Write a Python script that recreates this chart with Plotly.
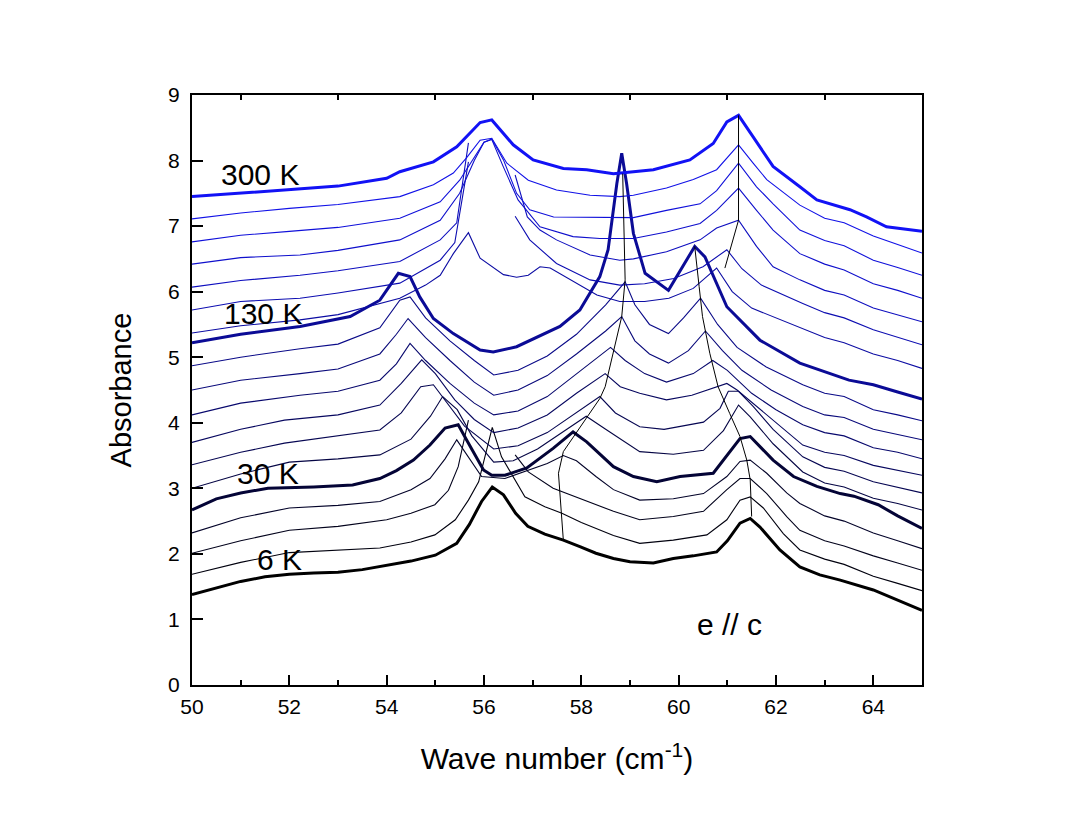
import plotly.graph_objects as go

# spectra, 6 K (bottom) ... 300 K (top)
x_6k = [50, 50.5, 51, 51.5, 52, 52.5, 53, 53.5, 54, 54.5, 55, 55.44, 55.7, 55.95, 56.17, 56.4, 56.65, 56.9, 57.25, 57.63,
        57.97, 58.3, 58.66, 59.0, 59.48, 59.89, 60.3, 60.78, 61.0, 61.26, 61.47, 61.67, 62.08, 62.49, 62.9, 63.32, 64.0, 64.5, 65]
y_6k = [1.38, 1.48, 1.58, 1.65, 1.69, 1.71, 1.72, 1.76, 1.82, 1.89, 1.98, 2.16, 2.45, 2.80, 3.02, 2.90, 2.62, 2.42, 2.30, 2.21,
        2.11, 2.01, 1.93, 1.88, 1.86, 1.93, 1.97, 2.03, 2.20, 2.47, 2.54, 2.41, 2.06, 1.80, 1.68, 1.60, 1.45, 1.30, 1.14]

x_t1 = [50, 51, 52, 53, 53.86, 54.5, 54.99, 55.41, 55.68, 55.89, 56.17, 56.36, 56.64, 56.84, 57.25, 57.6, 58.0, 58.66,
        59.2, 59.89, 60.58, 60.99, 61.26, 61.47, 61.74, 62.15, 62.49, 63.0, 63.4, 64.0, 64.5, 65]
y_t1 = [1.69, 1.87, 2.02, 2.06, 2.09, 2.18, 2.29, 2.52, 2.82, 3.10, 3.93, 3.48, 3.13, 2.87, 2.72, 2.62, 2.48, 2.28,
        2.16, 2.21, 2.29, 2.52, 2.82, 2.87, 2.70, 2.31, 2.06, 1.92, 1.84, 1.66, 1.55, 1.44]

x_t2 = [50, 51, 52, 53, 54, 54.5, 54.99, 55.27, 55.47, 55.68, None, 56.64, 56.91, 57.42, 57.97, 58.66, 59.2, 59.89,
        60.51, 60.99, 61.26, 61.47, 61.81, 62.22, 62.49, 63.0, 63.4, 64.0, 64.5, 65]
y_t2 = [2.01, 2.20, 2.36, 2.42, 2.52, 2.62, 2.75, 2.97, 3.33, 4.04, None, 3.51, 3.25, 3.00, 2.85, 2.65, 2.52, 2.57,
        2.65, 2.98, 3.15, 3.15, 2.92, 2.57, 2.36, 2.20, 2.12, 1.97, 1.86, 1.75]

x_t3 = [50, 51, 52, 53, 53.86, 54.5, 54.89, 55.2, 55.44, 55.7, 55.95, 56.43, 56.9, 57.3, 57.63, 57.9, 58.3, 58.66,
        59.2, 59.89, 60.51, 60.99, 61.26, 61.47, 61.81, 62.22, 62.49, 63.0, 63.4, 64.0, 64.5, 65]
y_t3 = [2.32, 2.55, 2.70, 2.74, 2.80, 2.98, 3.15, 3.45, 3.74, 3.45, 3.18, 3.15, 3.28, 3.38, 3.50, 3.42, 3.18, 2.98,
        2.82, 2.84, 2.92, 3.18, 3.41, 3.43, 3.23, 2.93, 2.77, 2.58, 2.50, 2.32, 2.20, 2.08]

x_30k = [50, 50.5, 51, 51.56, 52.5, 53.3, 53.86, 54.2, 54.55, 54.89, 55.2, 55.47, 55.64, 55.99, 56.16, 56.43, 56.88,
         57.42, 57.83, 58.11, 58.66, 59.07, 59.55, 60.03, 60.71, 61.26, 61.47, 61.94, 62.36, 62.84, 63.32, 63.6, 64.1, 64.5, 65]
y_30k = [2.67, 2.84, 2.93, 3.00, 3.02, 3.05, 3.15, 3.27, 3.43, 3.66, 3.92, 3.97, 3.74, 3.28, 3.20, 3.20, 3.31,
         3.61, 3.86, 3.71, 3.33, 3.18, 3.10, 3.18, 3.23, 3.76, 3.79, 3.43, 3.18, 3.03, 2.92, 2.88, 2.75, 2.58, 2.39]

x_t5 = [50, 51, 52, 53, 53.86, 54.5, 54.9, 55.15, 55.45, 55.75, 56.2, 56.6, 57.1, 57.6, 58.1, 58.5, 59.2, 59.89,
        60.51, 60.92, 61.23, 61.47, 61.94, 62.55, 63.0, 63.4, 64.0, 64.5, 65]
y_t5 = [3.00, 3.22, 3.40, 3.45, 3.51, 3.75, 4.10, 4.40, 4.20, 3.80, 3.40, 3.42, 3.60, 3.85, 4.10, 3.90, 3.56, 3.52,
        3.58, 3.88, 4.27, 4.09, 3.68, 3.25, 3.08, 3.02, 2.85, 2.77, 2.67]

x_t6 = [50, 51, 51.9, 53, 53.86, 54.3, 54.7, 54.96, 55.2, 55.6, 56.2, 56.7, 57.3, 57.9, 58.38, 58.7, 59.2, 59.7,
        60.51, 60.85, 61.02, 61.23, 61.53, 61.94, 62.55, 63.0, 63.4, 64.0, 64.5, 65]
y_t6 = [3.36, 3.55, 3.69, 3.80, 3.89, 4.15, 4.55, 4.58, 4.35, 3.95, 3.60, 3.65, 3.85, 4.15, 4.40, 4.15, 3.94, 3.90,
        4.01, 4.22, 4.48, 4.48, 4.25, 3.90, 3.48, 3.32, 3.26, 3.10, 3.02, 2.93]

x_t7 = [50, 51, 51.9, 53, 53.86, 54.3, 54.72, 55.0, 55.4, 55.8, 56.2, 56.7, 57.3, 57.9, 58.49, 58.8, 59.2, 59.75,
        60.27, 60.6, 60.99, 61.2, 61.6, 62.0, 62.55, 63.0, 63.4, 64.0, 64.5, 65]
y_t7 = [3.70, 3.90, 4.04, 4.12, 4.27, 4.60, 4.96, 4.75, 4.35, 4.05, 3.85, 3.92, 4.12, 4.45, 4.75, 4.55, 4.45, 4.35,
        4.42, 4.50, 4.60, 4.50, 4.25, 4.00, 3.66, 3.55, 3.50, 3.35, 3.28, 3.20]

x_t8 = [50, 51, 52.22, 53, 53.86, 54.2, 54.48, 54.8, 55.3, 55.8, 56.2, 56.7, 57.3, 57.9, 58.6, 58.9, 59.3, 59.75,
        60.3, 60.7, 61.0, 61.5, 62.0, 62.55, 63.0, 63.4, 64.0, 64.5, 65]
y_t8 = [4.12, 4.30, 4.42, 4.48, 4.65, 4.90, 5.21, 4.95, 4.60, 4.30, 4.12, 4.18, 4.40, 4.75, 5.15, 4.95, 4.75, 4.62,
        4.75, 4.95, 4.80, 4.45, 4.20, 3.97, 3.85, 3.80, 3.62, 3.55, 3.45]

x_t9 = [50, 51, 52.22, 53, 53.86, 54.2, 54.44, 54.8, 55.3, 55.8, 56.2, 56.7, 57.3, 57.9, 58.5, 58.83, 59.1, 59.4,
        59.79, 60.2, 60.55, 60.9, 61.3, 61.9, 62.55, 63.0, 63.4, 64.0, 64.5, 65]
y_t9 = [4.50, 4.65, 4.75, 4.82, 5.05, 5.35, 5.59, 5.30, 4.95, 4.62, 4.42, 4.50, 4.72, 5.05, 5.40, 5.62, 5.25, 5.05,
        4.91, 5.10, 5.40, 5.10, 4.80, 4.50, 4.25, 4.12, 4.08, 3.90, 3.82, 3.74]

x_t10 = [50, 51, 52.22, 53, 53.86, 54.27, 54.48, 54.8, 55.3, 55.8, 56.2, 56.7, 57.3, 57.9, 58.5, 58.9, 59.1, 59.4,
         59.79, 60.1, 60.45, 60.8, 61.2, 61.8, 62.55, 63.0, 63.4, 64.0, 64.5, 65]
y_t10 = [4.87, 5.00, 5.13, 5.20, 5.45, 5.87, 5.92, 5.60, 5.25, 4.95, 4.73, 4.80, 5.02, 5.35, 5.80, 6.15, 5.80, 5.50,
         5.36, 5.60, 5.90, 5.50, 5.15, 4.85, 4.58, 4.45, 4.40, 4.20, 4.12, 4.03]

x_130k = [50, 51, 52.22, 53.25, 53.86, 54.24, 54.48, 54.68, 54.96, 55.37, 55.92, 56.19, 56.67, 57.56, 57.97, 58.38,
          58.55, 58.73, 58.83, 58.93, 59.07, 59.31, 59.79, 60.33, 60.54, 60.99, 61.67, 62.49, 63.5, 64.0, 64.5, 65]
y_130k = [5.22, 5.35, 5.47, 5.62, 5.87, 6.28, 6.23, 5.92, 5.59, 5.36, 5.11, 5.08, 5.16, 5.47, 5.72, 6.23,
          6.64, 7.65, 8.11, 7.65, 6.89, 6.28, 6.02, 6.69, 6.53, 5.77, 5.26, 4.91, 4.65, 4.58, 4.47, 4.36]

x_t12 = [50, 51, 52.22, 53, 54.27, 54.8, 55.10, 55.37, 55.68, 55.92, 56.40, 56.67, 56.91, 57.15, 57.36, 57.84, 58.32,
         58.79, 59.3, 59.8, 60.3, 60.78, 61.1, 61.5, 62.0, 62.55, 63.0, 63.4, 64.0, 64.5, 65]
y_t12 = [5.37, 5.48, 5.57, 5.65, 5.90, 6.10, 6.25, 6.58, 6.90, 6.51, 6.26, 6.22, 6.25, 6.38, 6.36, 6.16, 5.95,
         5.85, 5.85, 5.90, 6.05, 6.36, 6.00, 5.75, 5.60, 5.44, 5.30, 5.22, 5.05, 4.95, 4.83]

x_t13 = [50, 51, 52.22, 53, 54.27, 55.10, 55.4, 55.68, None, 56.64, 56.94, 57.49, 58.18, 58.79, 59.3, 59.9, 60.5,
         60.99, 61.3, 61.7, 62.0, 62.55, 63.0, 63.4, 64.0, 64.5, 65]
y_t13 = [5.72, 5.85, 5.90, 5.98, 6.13, 6.48, 6.75, 7.98, None, 7.15, 6.79, 6.43, 6.18, 6.10, 6.12, 6.20, 6.38,
         6.64, 6.35, 6.10, 6.00, 5.82, 5.68, 5.60, 5.42, 5.30, 5.19]

x_t14 = [50, 51, 52.22, 53, 54.27, 55.10, 55.44, 55.68, None, 56.64, 56.89, 57.15, 57.49, 58.18, 58.79, 59.07, 59.75,
         60.44, 60.78, 61.23, 61.6, 61.94, 62.49, 63.0, 63.4, 64.0, 64.5, 65]
y_t14 = [6.07, 6.17, 6.25, 6.32, 6.46, 6.79, 7.05, 8.27, None, 7.78, 7.14, 6.94, 6.79, 6.56, 6.48, 6.50, 6.61,
         6.79, 6.97, 7.09, 6.69, 6.38, 6.18, 6.02, 5.95, 5.75, 5.65, 5.54]

x_t15 = [50, 51, 52.22, 53, 54.27, 55.10, 55.5, 55.8, 56.0, 56.16, 56.4, 56.7, 57.15, 57.83, 58.38, 59.07, 59.75,
         60.44, 60.78, 61.23, 61.6, 61.94, 62.49, 63.0, 63.4, 64.0, 64.5, 65]
y_t15 = [6.42, 6.52, 6.56, 6.63, 6.79, 7.09, 7.50, 8.00, 8.28, 8.32, 7.90, 7.40, 6.99, 6.84, 6.81, 6.81, 6.91,
         7.04, 7.24, 7.58, 7.24, 6.94, 6.58, 6.42, 6.33, 6.12, 6.02, 5.90]

x_t16 = [50, 51, 52, 53, 54.27, 55.10, 55.5, 55.8, 56.0, 56.16, 56.40, 56.67, 56.94, 57.43, 58.38, 59.07, 59.75,
         60.44, 60.78, 61.23, 61.6, 61.94, 62.49, 63.0, 63.4, 64.0, 64.5, 65]
y_t16 = [6.76, 6.86, 6.92, 6.98, 7.12, 7.37, 7.70, 8.05, 8.28, 8.33, 8.01, 7.50, 7.25, 7.14, 7.13, 7.13, 7.24,
         7.34, 7.54, 7.96, 7.60, 7.34, 6.94, 6.78, 6.70, 6.48, 6.37, 6.25]

x_t17 = [50, 51, 52, 53, 54.27, 54.96, 55.37, 55.64, 55.92, 56.16, 56.47, 56.91, 57.49, 58.18, 58.79, 59.07, 59.75,
         60.30, 60.78, 61.23, 61.53, 61.81, 62.49, 63.0, 63.4, 64.0, 64.5, 65]
y_t17 = [7.11, 7.20, 7.27, 7.33, 7.45, 7.63, 7.81, 8.04, 8.31, 8.34, 7.96, 7.70, 7.55, 7.47, 7.45, 7.47, 7.58,
         7.71, 7.86, 8.24, 7.96, 7.71, 7.32, 7.12, 7.05, 6.85, 6.72, 6.59]

x_300k = [50, 51, 52, 53, 54, 54.27, 54.96, 55.44, 55.92, 56.16, 56.60, 57.01, 57.63, 58.11, 58.66, 59.48, 60.23,
          60.71, 60.99, 61.23, 61.53, 61.94, 62.49, 62.84, 63.52, 63.86, 64.27, 65]
y_300k = [7.45, 7.50, 7.55, 7.61, 7.73, 7.83, 7.98, 8.21, 8.58, 8.62, 8.24, 8.01, 7.88, 7.86, 7.80, 7.86, 8.01,
          8.26, 8.59, 8.69, 8.36, 7.91, 7.60, 7.40, 7.25, 7.14, 6.99, 6.92]

# peak-tracking guide lines
guide1_x = [57.63, 57.53, 57.63, 58.38, 58.49, 58.83, 58.9, 58.85]
guide1_y = [2.21, 3.23, 3.56, 4.37, 4.55, 5.62, 6.18, 7.80]
guide2_x = [61.5, 61.47, 61.40, 61.26, 61.05, 60.81, 60.64, 60.49, 60.42, 60.33]
guide2_y = [2.57, 3.13, 3.43, 3.79, 4.14, 4.55, 5.06, 5.62, 6.08, 6.69]
guide3_x = [60.95, 61.23, 61.23]
guide3_y = [6.36, 7.09, 8.69]

temp_labels = ["6 K", "30 K", "130 K", "300 K"]

spectra = [
    (x_6k, y_6k), (x_t1, y_t1), (x_t2, y_t2), (x_t3, y_t3), (x_30k, y_30k),
    (x_t5, y_t5), (x_t6, y_t6), (x_t7, y_t7), (x_t8, y_t8), (x_t9, y_t9), (x_t10, y_t10),
    (x_130k, y_130k), (x_t12, y_t12), (x_t13, y_t13), (x_t14, y_t14), (x_t15, y_t15),
    (x_t16, y_t16), (x_t17, y_t17), (x_300k, y_300k),
]
thick = {0, 4, 11, 18}

FONT = "Liberation Sans, Arial, sans-serif"

fig = go.Figure()

n = len(spectra) - 1
for i, (xs, ys) in enumerate(spectra):
    # black -> blue going up in temperature
    b = round(245 * i / n)
    rg = round(18 * i / n)
    fig.add_trace(go.Scatter(
        x=xs, y=ys, mode="lines", connectgaps=False,
        line=dict(color=f"rgb({rg},{rg},{b})", width=3 if i in thick else 1.1),
        hoverinfo="skip", showlegend=False,
    ))

for gx, gy in [(guide1_x, guide1_y), (guide2_x, guide2_y), (guide3_x, guide3_y)]:
    fig.add_trace(go.Scatter(x=gx, y=gy, mode="lines", line=dict(color="black", width=1),
                             hoverinfo="skip", showlegend=False))

# dummy trace so the top tick axis is drawn
fig.add_trace(go.Scatter(x=[None], y=[None], xaxis="x2", showlegend=False, hoverinfo="skip"))

# temperature labels
for txt, (lx, ly) in zip(temp_labels, [(51.29, 1.92), (50.88, 3.22), (50.61, 5.66), (50.56, 7.78)]):
    fig.add_annotation(x=lx, y=ly, text=txt, showarrow=False, xanchor="left", yanchor="middle",
                       font=dict(family=FONT, size=30, color="black"))
fig.add_annotation(x=60.34, y=0.92, text="e // c", showarrow=False, xanchor="left", yanchor="middle",
                   font=dict(family=FONT, size=30, color="black"))

# page body has an 8px margin, so the figure is shrunk by that much
fig.update_layout(
    width=1064, height=813,
    margin=dict(l=184, r=150, t=87, b=136),
    paper_bgcolor="white", plot_bgcolor="white",
    font=dict(family=FONT, color="black"),
    showlegend=False,
    xaxis=dict(
        range=[50, 65], tick0=50, dtick=2, ticks="inside", ticklen=10, tickwidth=1.5, tickcolor="black",
        minor=dict(dtick=1, tick0=50, ticks="inside", ticklen=5, tickwidth=1.5, tickcolor="black"),
        showline=True, linewidth=2, linecolor="black", mirror=True,
        showgrid=False, zeroline=False, ticklabelstandoff=2,
        tickfont=dict(size=21),
        title=dict(text="Wave number (cm<sup>-1</sup>)", font=dict(size=30), standoff=31),
    ),
    xaxis2=dict(
        range=[50, 65], overlaying="x", side="top", tickvals=[51, 53, 55, 57, 59, 61, 63],
        ticks="inside", ticklen=5, tickwidth=1.5, tickcolor="black",
        showticklabels=False, showline=False, showgrid=False, zeroline=False,
    ),
    yaxis=dict(
        range=[0, 9], tick0=0, dtick=1, ticks="inside", ticklen=11, tickwidth=1.5, tickcolor="black",
        showline=True, linewidth=2, linecolor="black", mirror=True,
        showgrid=False, zeroline=False, ticklabelstandoff=6,
        tickfont=dict(size=21),
        title=dict(text="Absorbance", font=dict(size=29), standoff=28),
    ),
)

fig.write_html("out.html")
